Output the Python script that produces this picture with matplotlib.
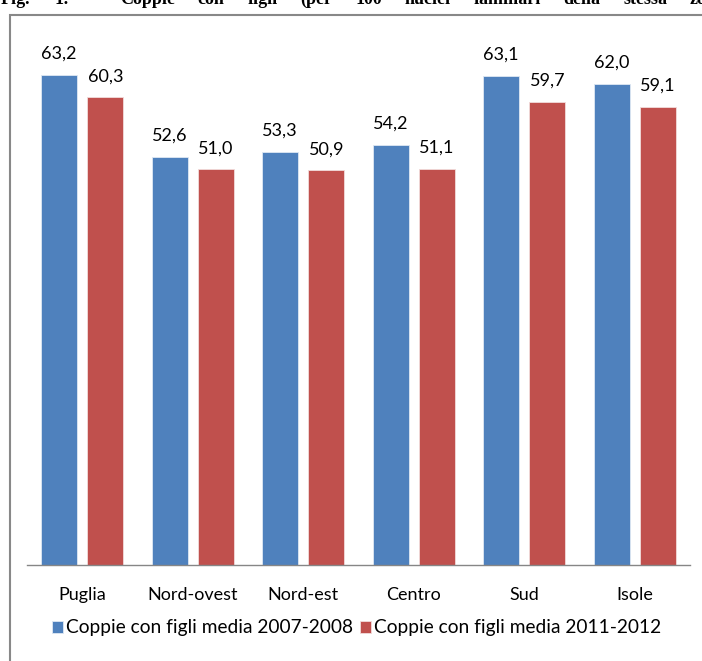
import numpy as np
import matplotlib.pyplot as plt
from matplotlib.patches import Rectangle

# Regional shares of couples with children (per 100 households)
regions = ['Puglia', 'Nord-ovest', 'Nord-est', 'Centro', 'Sud', 'Isole']
media_2007_2008 = [63.2, 52.6, 53.3, 54.2, 63.1, 62.0]
media_2011_2012 = [60.3, 51.0, 50.9, 51.1, 59.7, 59.1]
series_labels = ['Coppie con figli media 2007-2008',
                 'Coppie con figli media 2011-2012']

title_words = ['Fig.', '1:', 'Coppie', 'con', 'figli', '(per', '100',
               'nuclei', 'familiari', 'della', 'stessa', 'zona']

BLUE = '#4F81BD'
RED = '#C0504D'
W, H = 702, 661

plt.rcParams['font.family'] = ['Lato', 'DejaVu Sans']

fig = plt.figure(figsize=(W / 100, H / 100), dpi=100)
ax = fig.add_axes([27 / W, 1 - 565 / H, 663 / W, (565 - 22) / H])

x = np.arange(len(regions))
off, bw = 0.21, 0.326
b1 = ax.bar(x - off, media_2007_2008, bw, color=BLUE, edgecolor='#dfe8f3',
            linewidth=0.6, label=series_labels[0])
b2 = ax.bar(x + off, media_2011_2012, bw, color=RED, edgecolor='#f1dcdb',
            linewidth=0.6, label=series_labels[1])

for bars, vals in ((b1, media_2007_2008), (b2, media_2011_2012)):
    for rect, v in zip(bars, vals):
        ax.annotate(f'{v:.1f}'.replace('.', ','),
                    (rect.get_x() + rect.get_width() / 2, v),
                    xytext=(0, 11.5), textcoords='offset points',
                    ha='center', va='baseline', fontsize=13, color='black')

ax.set_xlim(-0.5, len(regions) - 0.5)
ax.set_ylim(0, 70)
ax.set_xticks(x)
ax.set_xticklabels(regions, fontsize=13)
ax.tick_params(axis='x', length=0, pad=16)
ax.set_yticks([])
for side in ('top', 'right', 'left'):
    ax.spines[side].set_visible(False)
ax.spines['bottom'].set_color('#868686')
ax.spines['bottom'].set_linewidth(1.0)

fig.legend(handles=[b1, b2], labels=series_labels, loc='center',
           bbox_to_anchor=(356.5 / W, 1 - 628 / H), ncol=2, frameon=False,
           fontsize=13.8, handlelength=0.6, handleheight=0.6,
           handletextpad=0.15, columnspacing=0.35, borderpad=0)

# outer frame, open to the right and bottom
fig.add_artist(Rectangle((9.5 / W, -0.1), 1.2, (H - 14.5) / H + 0.1,
                         transform=fig.transFigure, fill=False,
                         edgecolor='#888888', linewidth=1.5))

# justified caption line above the frame: label, tab, then evenly spaced words
fig.canvas.draw()
renderer = fig.canvas.get_renderer()
cap = dict(fontsize=13, fontweight='bold', family='Liberation Serif',
           ha='left', va='baseline')
fig.text(1 / W, 1 - 4 / H, title_words[0], **cap)
fig.text(55 / W, 1 - 4 / H, title_words[1], **cap)
xpos, gap = 120.0, 22.75
for word in title_words[2:]:
    t = fig.text(xpos / W, 1 - 4 / H, word, **cap)
    xpos += t.get_window_extent(renderer).width + gap

fig.savefig('out.png', dpi=100)
